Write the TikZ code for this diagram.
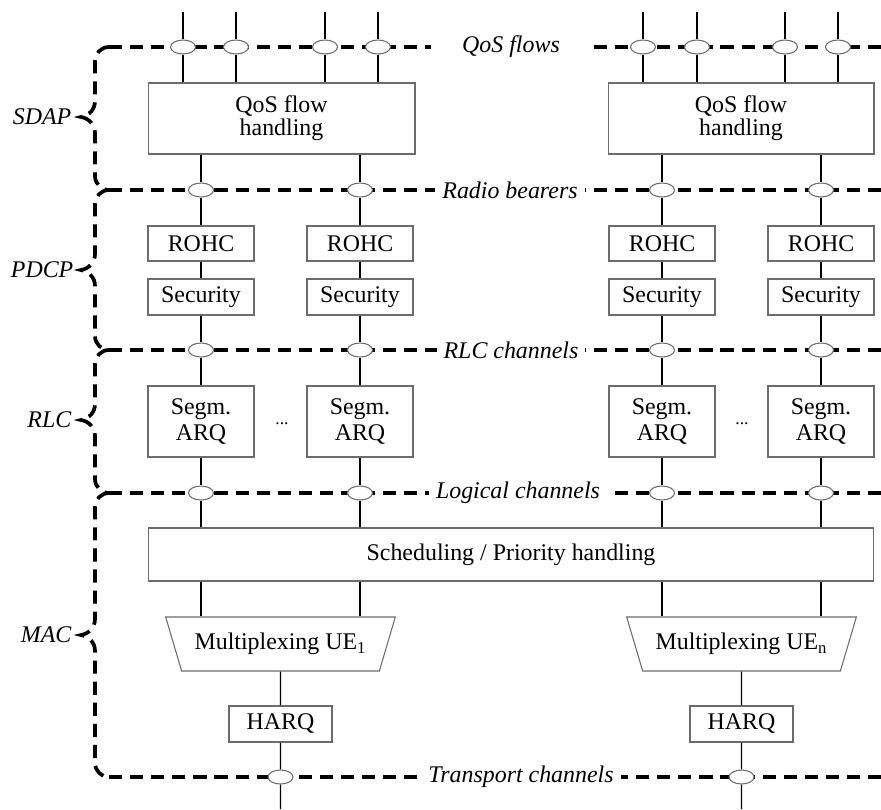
\documentclass[tikz,border=0pt]{standalone}
\usepackage{fontspec}
\setmainfont{Liberation Serif}
\usetikzlibrary{shapes.geometric}

\begin{document}
\begin{tikzpicture}[x=0.02cm,y=-0.02cm,line width=0.8pt,
  box/.style={draw=gray!85!black,line width=0.6pt,fill=white,inner sep=0pt,align=center,
    font=\fontsize{13.6}{13}\selectfont},
  mux/.style={trapezium,shape border rotate=180,trapezium angle=57.4,trapezium stretches=true,
    draw=gray!85!black,line width=0.6pt,fill=white,inner sep=0pt,minimum width=4.6cm,minimum height=1.08cm,
    font=\fontsize{13.6}{13}\selectfont},
  port/.style={ellipse,draw=gray!85!black,line width=0.6pt,fill=white,inner sep=0pt,
    minimum width=0.5cm,minimum height=0.28cm},
  chanline/.style={line width=2.1pt,dash pattern=on 7.5pt off 4.5pt},
  chan/.style={fill=white,inner xsep=4pt,inner ysep=1pt,font=\fontsize{13.6}{15}\selectfont\itshape},
  layerlbl/.style={anchor=east,inner sep=0pt,font=\fontsize{13.6}{15}\selectfont\itshape}]
\useasboundingbox (0,0) rectangle (881,809);
% layer braces
\foreach \ya/\yb/\yc in {47/117/190,190/270/350,350/420/493,493/635/777}
  \draw[chanline] (109,\ya) to[out=180,in=90] (95,\ya+14) -- (95,\yb-16)
    to[out=-90,in=10] (81,\yb) to[out=-10,in=90] (95,\yb+16) -- (95,\yc-14)
    to[out=-90,in=180] (109,\yc);
% channel lines
\foreach \y in {47,190,350,493,777}
  \draw[chanline] (109,\y) -- (881,\y);
% layer names
\node[layerlbl] (sdap) at (72,117) {SDAP};
\node[layerlbl] (pdcp) at (74,270) {PDCP};
\node[layerlbl] (rlc) at (72,420) {RLC};
\node[layerlbl] (mac) at (72,635) {MAC};
% channel names
\node[chan,minimum width=3.2cm] (lblqf) at (511,47) {QoS flows};
\node[chan] (lblrb) at (510,190) {Radio bearers};
\node[chan] (lblrc) at (511,350) {RLC channels};
\node[chan] (lbllc) at (518,493) {Logical channels};
\node[chan] (lbltc) at (521,777) {Transport channels};
% ports
\foreach \x [count=\i] in {183,236,325,378,643,697,785,838} {
  \node[port] (qf\i) at (\x,47) {};
  \coordinate (in\i) at (\x,12);
}
\foreach \x [count=\i] in {201,360,662,821} {
  \node[port] (rb\i) at (\x,190) {};
  \node[port] (rc\i) at (\x,350) {};
  \node[port] (lc\i) at (\x,493) {};
}
% SDAP
\node[box,minimum width=5.34cm,minimum height=1.42cm] (qos1) at (281.5,118.5) {QoS flow\\handling};
\node[box,minimum width=5.32cm,minimum height=1.42cm] (qos2) at (741,118.5) {QoS flow\\handling};
% PDCP and RLC
\foreach \x [count=\i] in {201,360,662,821} {
  \node[box,minimum width=2.12cm,minimum height=0.7cm] (rohc\i) at (\x,243.5) {ROHC};
  \node[box,minimum width=2.12cm,minimum height=0.72cm] (sec\i) at (\x,297) {Security};
  \node[box,minimum width=2.12cm,minimum height=1.42cm,font=\fontsize{13.6}{15}\selectfont] (segm\i) at (\x,421.5) {Segm.\\ARQ};
}
\node (dots1) at (282,424) {...};
\node (dots2) at (742,424) {...};
% MAC
\node[box,minimum width=14.52cm,minimum height=1.06cm] (sched) at (511,554.5) {Scheduling / Priority handling};
\node[mux] (mux1) at (280.5,644) {Multiplexing UE\textsubscript{1}};
\node[mux] (mux2) at (741.5,644) {Multiplexing UE\textsubscript{n}};
\node[box,minimum width=2.06cm,minimum height=0.72cm] (harq1) at (280.5,724) {HARQ};
\node[box,minimum width=2.06cm,minimum height=0.72cm] (harq2) at (741.5,724) {HARQ};
\node[port] (tc1) at (280.5,777) {};
\node[port] (tc2) at (741.5,777) {};
\coordinate (out1) at (280.5,809);
\coordinate (out2) at (741.5,809);
% connectors
\foreach \i in {1,...,4}
  \draw (in\i) -- (qf\i) -- (qf\i |- qos1.north);
\foreach \i in {5,...,8}
  \draw (in\i) -- (qf\i) -- (qf\i |- qos2.north);
\foreach \i/\q/\m in {1/qos1/mux1,2/qos1/mux1,3/qos2/mux2,4/qos2/mux2} {
  \draw (\q.south -| rb\i) -- (rb\i) -- (rohc\i) -- (sec\i) -- (rc\i) -- (segm\i) -- (lc\i) -- (lc\i |- sched.north);
  \draw (lc\i |- sched.south) -- (lc\i |- \m.north);
}
\draw (mux1) -- (harq1) -- (tc1) -- (out1);
\draw (mux2) -- (harq2) -- (tc2) -- (out2);
\end{tikzpicture}
\end{document}
